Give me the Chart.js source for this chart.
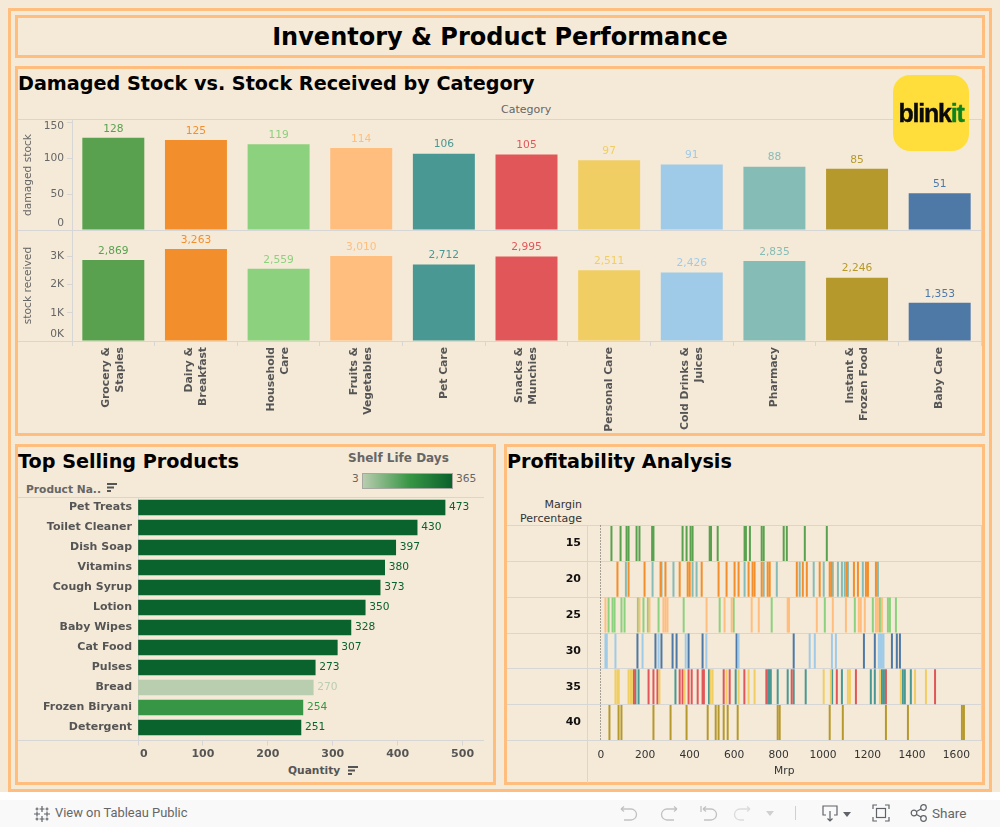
<!DOCTYPE html>
<html>
<head>
<meta charset="utf-8">
<title>Inventory & Product Performance</title>
<script src="https://cdn.jsdelivr.net/npm/chart.js@4"></script>
<style>
  html, body { margin: 0; padding: 0; background: #fff; }
  body { width: 1000px; height: 827px; position: relative; overflow: hidden; font-family: "DejaVu Sans", sans-serif; }
  #bg { position: absolute; left: 0; top: 0; width: 1000px; height: 792px; background: #f5ead8; }
  .box { position: absolute; box-sizing: border-box; border: 3px solid #ffbe7d; }
  .t { position: absolute; white-space: nowrap; line-height: 1; }
  .head { font-weight: bold; font-size: 19.2px; color: #000; }
  .rule { position: absolute; background: #d6d6d6; }
  canvas { position: absolute; }
  #bar { position: absolute; left: 0; top: 800px; width: 1000px; height: 27px; background: #f9f9f9; }
  #bar svg { position: absolute; }
  #logo { position: absolute; z-index: 5; left: 893px; top: 75px; width: 76px; height: 76px; border-radius: 17px; background: #ffde3c; }
  #logo div { position: absolute; left: 0; width: 76px; top: 26px; text-align: center; font: bold 25px/1 "Liberation Sans", sans-serif; letter-spacing: -1.2px; color: #0a0a0a; -webkit-text-stroke: 0.4px currentColor; }
  #logo span { color: #0c831f; }
  #ramp { position: absolute; left: 362px; top: 473px; width: 91px; height: 16px; box-sizing: border-box; border: 1px solid #a8a8a0;
          background: linear-gradient(to right, #b9cdaf, #379645 52%, #0a622c); }
</style>
</head>
<body>
<div id="bg"></div>
<div class="box" style="left:8px;top:8px;width:984px;height:784px"></div>
<div class="box" style="left:15px;top:15px;width:970px;height:43px"></div>
<div class="box" style="left:15px;top:66px;width:970px;height:370px"></div>
<div class="box" style="left:15px;top:444px;width:481px;height:341px"></div>
<div class="box" style="left:504px;top:444px;width:481px;height:341px"></div>

<div class="t" style="left:0;width:1000px;text-align:center;top:25px;font-weight:bold;font-size:24px;color:#000">Inventory &amp; Product Performance</div>
<div class="t head" style="left:18px;top:74px">Damaged Stock vs. Stock Received by Category</div>
<div class="t" style="left:501px;top:104px;font-size:11px;color:#666">Category</div>
<div class="t head" style="left:18px;top:452px">Top Selling Products</div>
<div class="t head" style="left:507px;top:452px">Profitability Analysis</div>

<div class="t" style="left:348px;top:452px;font-size:12px;font-weight:bold;color:#666">Shelf Life Days</div>
<div id="ramp"></div>
<div class="t" style="left:352px;top:474px;font-size:10.67px;color:#666">3</div>
<div class="t" style="left:456px;top:474px;font-size:10.67px;color:#666">365</div>
<div class="t" style="left:26px;top:485px;font-size:10.67px;font-weight:bold;color:#666">Product Na..</div>
<div class="t" style="left:288px;top:766px;font-size:10.67px;font-weight:bold;color:#555">Quantity</div>
<svg class="t" style="left:106px;top:482px" width="12" height="12"><path d="M1 2h10M1 5.500h7M1 9h4" stroke="#555" stroke-width="2"/></svg>
<svg class="t" style="left:347px;top:765px" width="12" height="12"><path d="M1 2h10M1 5.500h7M1 9h4" stroke="#555" stroke-width="2"/></svg>
<div class="t" style="left:507px;width:75px;text-align:right;top:498px;font-size:11px;line-height:14px;white-space:normal;color:#333">Margin Percentage</div>

<div id="logo"><div>blink<span>it</span></div></div>

<canvas id="damagedChart" style="left:18px;top:117px" width="966" height="113"></canvas>
<canvas id="stockChart" style="left:18px;top:228px" width="966" height="204"></canvas>
<canvas id="topChart" style="left:18px;top:494px" width="470" height="284"></canvas>
<canvas id="profitChart" style="left:507px;top:522px" width="478" height="262"></canvas>

<div id="bar">
  <svg style="left:33px;top:5px" width="18" height="18" fill="none" stroke="#5f6368" stroke-width="1.200">
    <path d="M9 1v6M6.500 4h5M9 11v6M6.500 14h5M1 9h6M4 6.500v5M11 9h6M14 6.500v5M4 2.500v3M2.500 4h3M14 2.500v3M12.500 4h3M4 12.500v3M2.500 14h3M14 12.500v3M12.500 14h3"/>
  </svg>
  <div class="t" style="left:55px;top:7px;font:12.900px/1 Roboto,sans-serif;color:#666">View on Tableau Public</div>
  <svg style="left:618px;top:4px" width="140" height="20" fill="none" stroke="#c2c2c2" stroke-width="1.300">
    <path d="M3 5h10a5.500 5.500 0 0 1 0 11H6M3 5l3-2.500M3 5l3 2.500"/>
    <path d="M59 5H49a5.500 5.500 0 0 0 0 11h7M59 5l-3-2.500M59 5l-3 2.500"/>
    <path d="M83 2v6M85 5h8a5.500 5.500 0 0 1 0 11h-7M85 5l3-2.500M85 5l3 2.500"/>
    <path d="M132 5h-10a5.500 5.500 0 0 0 0 11h4M132 5l-3-2.500M132 5l-3 2.500" stroke="#dcdcdc"/>
  </svg>
  <svg style="left:766px;top:5px" width="32" height="16"><path d="M0 6h8l-4 5z" fill="#d0d0d0"/><path d="M29.500 1v14" stroke="#d0d0d0"/></svg>
  <svg style="left:821px;top:4px" width="32" height="20" fill="none" stroke="#5f6368" stroke-width="1.200">
    <path d="M5 11H2V2h14v9h-3M9 7v10M6.500 14.500L9 17l2.500-2.500"/><path d="M22 8h8l-4 5z" fill="#5f6368" stroke="none"/>
  </svg>
  <svg style="left:872px;top:4px" width="18" height="18" fill="none" stroke="#5f6368" stroke-width="1.200">
    <path d="M1 5V1h4M13 1h4v4M17 13v4h-4M5 17H1v-4"/><rect x="4.500" y="4.500" width="9" height="9"/>
  </svg>
  <svg style="left:910px;top:4px" width="18" height="18" fill="none" stroke="#5f6368" stroke-width="1.200">
    <circle cx="4" cy="9" r="2.800"/><circle cx="13.500" cy="3.500" r="2.800"/><circle cx="13.500" cy="14.500" r="2.800"/><path d="M6.500 7.500l4.500-2.500M6.500 10.500l4.500 2.500"/>
  </svg>
  <div class="t" style="left:932px;top:7px;font:13.500px/1 Roboto,sans-serif;color:#666">Share</div>
</div>

<script>
// categories, in chart order
const categories = ['Grocery & Staples', 'Dairy & Breakfast', 'Household Care', 'Fruits & Vegetables', 'Pet Care',
    'Snacks & Munchies', 'Personal Care', 'Cold Drinks & Juices', 'Pharmacy', 'Instant & Frozen Food', 'Baby Care'];
const categoryTicks = [['Grocery &', 'Staples'], ['Dairy &', 'Breakfast'], ['Household', 'Care'], ['Fruits &', 'Vegetables'], ['Pet Care'],
    ['Snacks &', 'Munchies'], ['Personal Care'], ['Cold Drinks &', 'Juices'], ['Pharmacy'], ['Instant &', 'Frozen Food'], ['Baby Care']];
const categoryColors = ['#59a14f', '#f28e2b', '#8cd17d', '#ffbe7d', '#499894', '#e15759', '#f1ce63', '#a0cbe8', '#86bcb6', '#b6992d', '#4e79a7'];
const damagedStock = [128, 125, 119, 114, 106, 105, 97, 91, 88, 85, 51];
const stockReceived = [2869, 3263, 2559, 3010, 2712, 2995, 2511, 2426, 2835, 2246, 1353];
const damagedTicks = [0, 50, 100, 150];
const stockTicks = [0, 1000, 2000, 3000];

// top selling products
const products = ['Pet Treats', 'Toilet Cleaner', 'Dish Soap', 'Vitamins', 'Cough Syrup', 'Lotion', 'Baby Wipes', 'Cat Food', 'Pulses', 'Bread', 'Frozen Biryani', 'Detergent'];
const quantity = [473, 430, 397, 380, 373, 350, 328, 307, 273, 270, 254, 251];
const productColors = ['#0a622c', '#0a622c', '#0a622c', '#0a622c', '#0a622c', '#0a622c', '#0a622c', '#0a622c', '#0a622c', '#b9cdaf', '#379645', '#0a622c'];
const quantityTicks = [0, 100, 200, 300, 400, 500];

// profitability: mrp values per margin and category
const margins = ['15', '20', '25', '30', '35', '40'];
const mrpTicks = [0, 200, 400, 600, 800, 1000, 1200, 1400, 1600];
const groceryMrp15 = [48, 89, 116, 125, 161, 174, 231, 237, 368, 386, 404, 413, 490, 496, 526, 647, 653, 671, 724, 733, 823, 837, 918, 1017];
const dairyMrp20 = [75, 125, 197, 269, 291, 355, 391, 400, 454, 530, 566, 602, 620, 665, 683, 692, 724, 751, 760, 882, 909, 927, 985, 1030, 1037, 1107, 1139, 1157, 1193, 1202, 1238];
const pharmacyMrp20 = [113, 233, 273, 327, 413, 431, 647, 733, 792, 895, 958, 1003, 1044, 1067, 1085, 1098, 1112, 1179, 1247];
const fruitsMrp25 = [21, 174, 219, 282, 291, 300, 476, 557, 589, 679, 711, 841, 847, 972, 1044, 1103, 1161, 1170, 1188, 1238, 1247, 1265];
const householdMrp25 = [35, 53, 62, 93, 107, 167, 192, 212, 260, 373, 535, 598, 769, 1008, 1143, 1224, 1256, 1292, 1301, 1328];
const coldDrinksMrp30 = [21, 27, 66, 188, 260, 382, 475, 620, 940, 963, 1040, 1058, 1251, 1257, 1265, 1272];
const babyMrp30 = [165, 246, 273, 323, 341, 395, 458, 611, 868, 1184, 1233, 1310, 1332, 1346];
const personalMrp35 = [66, 75, 81, 125, 134, 140, 264, 377, 494, 503, 566, 620, 665, 692, 1003, 1035, 1112, 1121, 1256, 1350, 1414, 1463];
const snacksMrp35 = [149, 215, 237, 255, 355, 368, 395, 409, 436, 458, 464, 553, 580, 646, 745, 859, 1062, 1148, 1283, 1504];
const petMrp35 = [156, 170, 336, 487, 607, 753, 759, 765, 796, 841, 868, 922, 1041, 1085, 1215, 1233, 1265, 1274, 1359, 1368, 1395];
const instantMrp40 = [39, 80, 93, 237, 314, 386, 481, 517, 530, 553, 571, 616, 796, 805, 1030, 1089, 1283, 1382, 1625, 1634];

const GRID = '#d6d6d6';
const GREY = '#666';
Chart.defaults.font.family = '"DejaVu Sans", sans-serif';
Chart.defaults.font.size = 10.67;
Chart.defaults.animation = false;
Chart.defaults.responsive = false;
Chart.defaults.plugins.legend.display = false;
Chart.defaults.plugins.tooltip.enabled = false;

// rule lines round the panes
function rule(x, y, w, h) {
    const d = document.createElement('div');
    d.className = 'rule';
    d.style.cssText = `left:${x}px;top:${y}px;width:${w}px;height:${h}px`;
    document.body.insertBefore(d, document.getElementById('damagedChart'));
}
[119, 230, 341].forEach(y => rule(18, y, 964, 1));
[72, 981].forEach(x => rule(x, 119, 1, 227));
[497, 740].forEach(y => rule(18, y, 466, 1));
rule(138, 497, 1, 248);
[525, 561, 597, 633, 668, 704, 740].forEach(y => rule(507, y, 475, 1));
rule(587, 525, 1, 258);
rule(981, 525, 1, 216);

// fixed tick values, chart.js would respace them to fit min/max
const useTicks = values => s => { s.ticks = values.map(value => ({ value })); };
// no room kept for labels that overhang the plot
function fitAxis(s, size) {
    if (s.isHorizontal()) s.height = size; else s.width = size;
    s.paddingTop = s.paddingBottom = s.paddingLeft = s.paddingRight = 0;
}

// value on the end of each bar
const barLabels = {
    id: 'barLabels',
    afterDatasetsDraw(chart, args, opts) {
        const { ctx } = chart;
        const ds = chart.data.datasets[0];
        ctx.save();
        ctx.font = '10.67px "DejaVu Sans", sans-serif';
        ctx.textBaseline = 'middle';
        chart.getDatasetMeta(0).data.forEach((bar, i) => {
            ctx.fillStyle = ds.backgroundColor[i];
            const text = ds.data[i].toLocaleString('en-US');
            if (opts.horizontal) {
                ctx.textAlign = 'left';
                ctx.fillText(text, bar.x + 4, bar.y);
            } else {
                ctx.textAlign = 'center';
                ctx.fillText(text, bar.x, bar.y - 9);
            }
        });
        ctx.restore();
    }
};

// tableau keeps the outer tick labels inside the pane
const paneTicks = {
    id: 'paneTicks',
    afterDraw(chart) {
        const { ctx } = chart;
        const s = chart.scales.y;
        ctx.save();
        ctx.font = '10.67px "DejaVu Sans", sans-serif';
        ctx.fillStyle = GREY;
        ctx.textAlign = 'right';
        ctx.textBaseline = 'middle';
        s.ticks.forEach((t, i) => {
            const y = Math.min(Math.max(s.getPixelForTick(i), s.top + 6), s.bottom - 7);
            ctx.fillText(t.label, s.right - 8, y);
        });
        ctx.restore();
    }
};

// rotated category names, lines centred on the bar and ending at the axis
const categoryLabels = {
    id: 'categoryLabels',
    afterDraw(chart) {
        const { ctx } = chart;
        const s = chart.scales.x;
        if (!s.options.display) return;
        ctx.save();
        ctx.font = 'bold 10.8px "DejaVu Sans", sans-serif';
        ctx.fillStyle = '#555';
        ctx.textAlign = 'right';
        ctx.textBaseline = 'middle';
        s.ticks.forEach((t, i) => {
            const lines = categoryTicks[i];
            ctx.save();
            ctx.translate(s.getPixelForTick(i), s.top + 6);
            ctx.rotate(-Math.PI / 2);
            lines.forEach((line, j) => ctx.fillText(line, 0, (j - (lines.length - 1) / 2) * 14));
            ctx.restore();
        });
        ctx.restore();
    }
};

function columnChart(id, values, yMax, yTicks, title, fmt, topPad, xOpts) {
    return new Chart(document.getElementById(id), {
        type: 'bar',
        data: {
            labels: categories,
            datasets: [{ data: values, backgroundColor: categoryColors, barPercentage: 0.75, categoryPercentage: 1 }],
        },
        options: {
            layout: { padding: { top: topPad, right: 3 } },
            plugins: { barLabels: {} },
            scales: {
                x: xOpts,
                y: {
                    min: 0,
                    max: yMax,
                    afterBuildTicks: useTicks(yTicks),
                    afterFit: s => fitAxis(s, 54),
                    title: { display: true, text: title, color: GREY, font: { size: 10.67 }, padding: { top: 4, bottom: 0 } },
                    border: { display: false },
                    grid: { drawOnChartArea: false, tickLength: 5, tickColor: GRID },
                    ticks: { display: false, callback: fmt },
                },
            },
        },
        plugins: [barLabels, paneTicks, categoryLabels],
    });
}

columnChart('damagedChart', damagedStock, 152.8, damagedTicks, 'damaged stock', v => v, 3, { display: false });
columnChart('stockChart', stockReceived, 3936, stockTicks, 'stock received', v => (v / 1000) + 'K', 2, {
    afterFit: s => fitAxis(s, 91),
    border: { display: false },
    grid: { drawOnChartArea: false, tickLength: 5, tickColor: GRID, offset: true },
    ticks: { autoSkip: false, display: false },
});

new Chart(document.getElementById('topChart'), {
    type: 'bar',
    data: {
        labels: products,
        datasets: [{ data: quantity, backgroundColor: productColors, barThickness: 15 }],
    },
    options: {
        indexAxis: 'y',
        layout: { padding: { top: 3.5, right: 4 } },
        plugins: { barLabels: { horizontal: true } },
        scales: {
            x: {
                min: 0,
                max: 533,
                afterBuildTicks: useTicks(quantityTicks),
                afterFit: s => fitAxis(s, 40.5),
                border: { display: false },
                grid: { drawOnChartArea: false, tickLength: 8, tickColor: GRID, tickBorderDash: [0, 3, 5] },
                ticks: {
                    maxRotation: 0,
                    padding: 2,
                    color: '#555',
                    font: { weight: 'bold', size: 11 },
                    callback: v => (v === 0 ? '   0' : v),
                },
            },
            y: {
                afterFit: s => fitAxis(s, 120),
                border: { display: false },
                grid: { display: false, drawTicks: false, tickLength: 0 },
                ticks: { autoSkip: false, padding: 6, color: '#555', font: { weight: 'bold', size: 11 } },
            },
        },
    },
    plugins: [barLabels],
});

function mrpSeries(values, margin, color) {
    return {
        data: values.map(v => ({ x: v, y: margin })),
        pointStyle: 'line',
        pointRotation: 90,
        pointRadius: 17.5,
        pointBorderWidth: 2,
        pointBorderColor: color,
        showLine: false,
    };
}

new Chart(document.getElementById('profitChart'), {
    type: 'scatter',
    data: {
        datasets: [
            mrpSeries(groceryMrp15, '15', categoryColors[0]),
            mrpSeries(dairyMrp20, '20', categoryColors[1]),
            mrpSeries(pharmacyMrp20, '20', categoryColors[8]),
            mrpSeries(fruitsMrp25, '25', categoryColors[3]),
            mrpSeries(householdMrp25, '25', categoryColors[2]),
            mrpSeries(coldDrinksMrp30, '30', categoryColors[7]),
            mrpSeries(babyMrp30, '30', categoryColors[10]),
            mrpSeries(personalMrp35, '35', categoryColors[6]),
            mrpSeries(snacksMrp35, '35', categoryColors[5]),
            mrpSeries(petMrp35, '35', categoryColors[4]),
            mrpSeries(instantMrp40, '40', categoryColors[9]),
        ],
    },
    options: {
        layout: { autoPadding: false, padding: { top: 3.5, right: 3.5 } },
        scales: {
            x: {
                min: -62,
                max: 1713,
                afterBuildTicks: useTicks(mrpTicks),
                afterFit: s => fitAxis(s, 43.5),
                border: { display: false, dash: [1, 2] },
                grid: { drawTicks: false, color: c => (c.tick && c.tick.value === 0 ? '#555' : 'transparent') },
                title: { display: true, text: 'Mrp', color: '#333', font: { size: 10.67 }, padding: { top: 0, bottom: 6 } },
                ticks: { maxRotation: 0, padding: 8, color: '#333', font: { size: 10.67 }, callback: v => v },
            },
            y: {
                type: 'category',
                labels: margins,
                offset: true,
                afterFit: s => fitAxis(s, 80),
                border: { display: false },
                grid: { display: false, drawTicks: false, tickLength: 0 },
                ticks: { padding: 6, color: '#111', font: { weight: 'bold', size: 11 } },
            },
        },
    },
});
</script>
</body>
</html>
